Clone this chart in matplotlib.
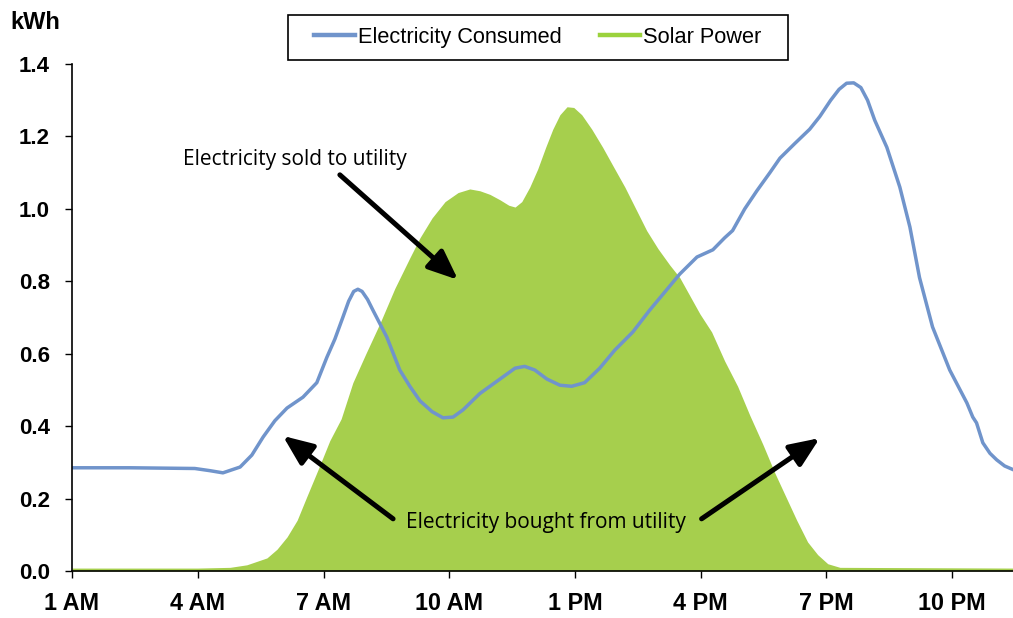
import matplotlib.pyplot as plt
from matplotlib.lines import Line2D
from matplotlib.patches import Rectangle

# hours of the day (1 = 1 AM) and readings in kWh
consumed_hours = [1.0, 2.38, 3.93, 4.29, 4.60, 5.01, 5.29, 5.56, 5.84, 6.13, 6.51, 6.84,
                  7.08, 7.27, 7.46, 7.60, 7.72, 7.82, 7.92, 8.05, 8.18, 8.51, 8.82, 9.06,
                  9.30, 9.59, 9.85, 10.09, 10.33, 10.73, 11.21, 11.57, 11.80, 12.04, 12.33,
                  12.64, 12.92, 13.23, 13.59, 13.95, 14.38, 14.78, 15.14, 15.50, 15.91,
                  16.29, 16.57, 16.76, 17.05, 17.34, 17.65, 17.89, 18.24, 18.60, 18.84,
                  19.10, 19.30, 19.48, 19.65, 19.82, 19.98, 20.15, 20.44, 20.75, 20.99,
                  21.22, 21.53, 21.94, 22.35, 22.49, 22.58, 22.73, 22.90, 23.06, 23.25, 23.45]
consumed_kwh = [0.285, 0.285, 0.283, 0.277, 0.271, 0.287, 0.32, 0.37, 0.415, 0.45, 0.48, 0.52,
                0.59, 0.64, 0.70, 0.745, 0.772, 0.778, 0.772, 0.75, 0.72, 0.646, 0.555, 0.51,
                0.47, 0.44, 0.423, 0.425, 0.445, 0.49, 0.53, 0.56, 0.565, 0.555, 0.53,
                0.513, 0.51, 0.52, 0.56, 0.61, 0.66, 0.72, 0.77, 0.82, 0.867,
                0.887, 0.92, 0.94, 1.00, 1.05, 1.10, 1.14, 1.18, 1.22, 1.255,
                1.30, 1.33, 1.347, 1.348, 1.335, 1.30, 1.245, 1.17, 1.06, 0.95,
                0.81, 0.674, 0.555, 0.464, 0.425, 0.409, 0.354, 0.325, 0.307, 0.29, 0.28]

solar_hours = [1.0, 4.0, 4.77, 5.17, 5.65, 5.89, 6.13, 6.37, 6.60, 6.87, 7.15, 7.42, 7.70,
               8.01, 8.35, 8.70, 9.06, 9.30, 9.59, 9.90, 10.21, 10.49, 10.73, 10.97, 11.21,
               11.42, 11.57, 11.73, 11.92, 12.11, 12.30, 12.47, 12.64, 12.81, 12.97, 13.16,
               13.40, 13.66, 13.90, 14.19, 14.45, 14.71, 14.98, 15.26, 15.50, 15.74, 15.98,
               16.26, 16.57, 16.88, 17.17, 17.48, 17.77, 18.05, 18.29, 18.55, 18.79, 19.03,
               19.32, 23.45]
solar_kwh = [0.008, 0.008, 0.01, 0.017, 0.036, 0.06, 0.094, 0.14, 0.205, 0.28, 0.36, 0.42, 0.52,
             0.60, 0.685, 0.78, 0.865, 0.92, 0.975, 1.02, 1.045, 1.055, 1.05, 1.04, 1.025,
             1.01, 1.005, 1.02, 1.06, 1.11, 1.17, 1.22, 1.26, 1.282, 1.28, 1.26,
             1.22, 1.17, 1.12, 1.06, 1.00, 0.94, 0.89, 0.845, 0.81, 0.76, 0.71,
             0.66, 0.58, 0.51, 0.43, 0.35, 0.27, 0.20, 0.14, 0.08, 0.045, 0.02,
             0.01, 0.008]

tick_hours = [1, 4, 7, 10, 13, 16, 19, 22]
tick_labels = ["1 AM", "4 AM", "7 AM", "10 AM", "1 PM", "4 PM", "7 PM", "10 PM"]

blue = "#7094CB"
green = "#A6CF4D"

fig = plt.figure(figsize=(10.13, 6.18), dpi=100)
ax = fig.add_axes([0.0711, 0.0761, 1 - 0.0711, 0.8964 - 0.0761])

ax.fill_between(solar_hours, solar_kwh, color=green, lw=0)
ax.plot(consumed_hours, consumed_kwh, color=blue, lw=2.5, solid_joinstyle="round")

ax.set_xlim(1, 23.45)
ax.set_ylim(0, 1.4)
ax.set_xticks(tick_hours)
ax.set_xticklabels(tick_labels)
ax.set_yticks([0, 0.2, 0.4, 0.6, 0.8, 1.0, 1.2, 1.4])
ax.set_yticklabels([f"{v:.1f}" for v in ax.get_yticks()])
for lab in ax.get_xticklabels():
    lab.set_fontfamily("Liberation Sans")
    lab.set_fontweight("bold")
    lab.set_fontsize(16.8)
for lab in ax.get_yticklabels():
    lab.set_fontfamily("Liberation Sans")
    lab.set_fontweight("bold")
    lab.set_fontsize(16)
ax.tick_params(axis="both", direction="out", length=5, width=1, color="black")
ax.tick_params(axis="x", pad=10.3)
ax.tick_params(axis="y", pad=11)
ax.spines["top"].set_visible(False)
ax.spines["right"].set_visible(False)
for s in ["left", "bottom"]:
    ax.spines[s].set_linewidth(1.2)

fig.text(0.01, 0.964, "kWh", fontfamily="Liberation Sans", fontweight="bold",
         fontsize=17, va="center")

# legend box drawn by hand so the padding matches
fig.patches.append(Rectangle((288 / 1013, 1 - 60 / 618), 500 / 1013, 45 / 618,
                             transform=fig.transFigure, fill=False,
                             edgecolor="black", lw=1.2))
handles = [Line2D([], [], color=blue, lw=3.2), Line2D([], [], color="#9BD23C", lw=3.2)]
fig.legend(handles, ["Electricity Consumed", "Solar Power"], loc="center",
           bbox_to_anchor=(538 / 1013, 1 - 37.5 / 618), ncol=2, frameon=False,
           handlelength=1.85, handletextpad=0.15, columnspacing=1.75,
           borderpad=0, borderaxespad=0,
           prop={"family": "Liberation Sans", "size": 15.7})

note_font = {"family": "Open Sans", "size": 15}
ax.text(6.32, 1.135, "Electricity sold to utility", ha="center", va="center", **note_font)
ax.text(12.3, 0.135, "Electricity bought from utility", ha="center", va="center", **note_font)

arrow = dict(arrowstyle="-|>,head_length=1.0,head_width=0.42", color="black", lw=3.6,
             mutation_scale=18, shrinkA=0, shrinkB=0)
ax.annotate("", xy=(10.21, 0.804), xytext=(7.39, 1.094), arrowprops=arrow)
ax.annotate("", xy=(6.03, 0.373), xytext=(8.66, 0.144), arrowprops=arrow)
ax.annotate("", xy=(18.84, 0.367), xytext=(16.02, 0.144), arrowprops=arrow)

plt.savefig("out.png", dpi=100)
